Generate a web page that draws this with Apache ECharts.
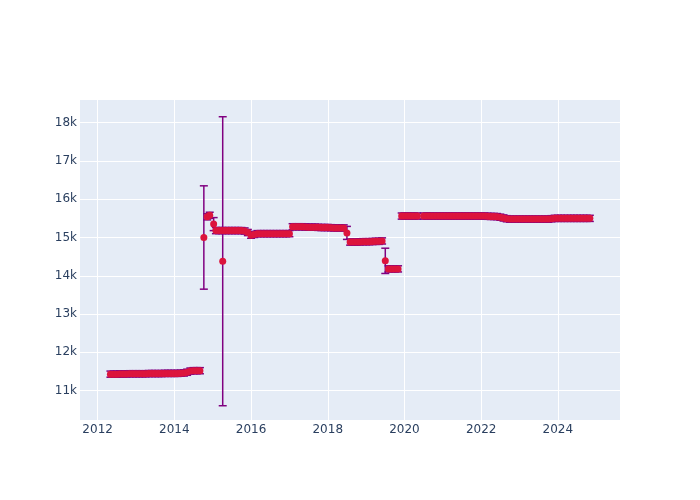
<!DOCTYPE html>
<html>
<head>
<meta charset="utf-8">
<script src="https://cdn.jsdelivr.net/npm/echarts@6/dist/echarts.min.js"></script>
<style>html,body{margin:0;padding:0;background:#fff}#c{width:700px;height:500px}</style>
</head>
<body>
<div id="c"></div>
<script>
const xTicks = [2012, 2014, 2016, 2018, 2020, 2022, 2024];
const yTicks = [11000, 12000, 13000, 14000, 15000, 16000, 17000, 18000];

const dates = [
 '2012-05','2012-06','2012-07','2012-08','2012-09','2012-10','2012-11','2012-12',
 '2013-01','2013-02','2013-03','2013-04','2013-05','2013-06','2013-07','2013-08','2013-09','2013-10','2013-11','2013-12',
 '2014-01','2014-02','2014-03','2014-04','2014-05','2014-06','2014-07','2014-08','2014-09',
 '2014-10-08','2014-11-10','2014-12-03','2015-01-10',
 '2015-02','2015-03','2015-04','2015-04-05','2015-05','2015-06','2015-07','2015-08','2015-09','2015-10','2015-11','2015-12',
 '2016-01','2016-02','2016-03','2016-04','2016-05','2016-06','2016-07','2016-08','2016-09','2016-10','2016-11','2016-12','2017-01',
 '2017-02','2017-03','2017-04','2017-05','2017-06','2017-07','2017-08','2017-09','2017-10','2017-11','2017-12',
 '2018-01','2018-02','2018-03','2018-04','2018-05','2018-06',
 '2018-07-01',
 '2018-08','2018-09','2018-10','2018-11','2018-12','2019-01','2019-02','2019-03','2019-04','2019-05','2019-06',
 '2019-07-01',
 '2019-08','2019-09','2019-10','2019-11',
 '2019-12-05','2020-01','2020-02','2020-03','2020-04','2020-05',
 '2020-07','2020-08','2020-09','2020-10','2020-11','2020-12',
 '2021-01','2021-02','2021-03','2021-04','2021-05','2021-06','2021-07','2021-08','2021-09','2021-10','2021-11','2021-12',
 '2022-01','2022-02','2022-03','2022-04','2022-05','2022-06','2022-07','2022-08','2022-09','2022-10','2022-11','2022-12',
 '2023-01','2023-02','2023-03','2023-04','2023-05','2023-06','2023-07','2023-08','2023-09','2023-10','2023-11','2023-12',
 '2024-01','2024-02','2024-03','2024-04','2024-05','2024-06','2024-07','2024-08','2024-09','2024-10','2024-11'
];

const values = [
 11430,11430,11430,11435,11435,11435,11440,11440,
 11440,11440,11440,11440,11445,11445,11445,11445,11445,11450,11450,11450,
 11450,11450,11455,11460,11480,11510,11520,11520,11520,
 15000,15540,15580,15350,
 15180,15180,15180,14380,15180,15180,15180,15180,15180,15180,15170,15130,
 15060,15080,15100,15100,15100,15100,15100,15100,15100,15100,15100,15100,15100,
 15280,15280,15280,15280,15275,15270,15270,15270,15265,15260,15260,
 15260,15255,15250,15250,15250,15250,
 15120,
 14880,14880,14880,14885,14890,14890,14890,14895,14900,14900,14910,
 14390,
 14180,14180,14180,14180,
 15560,15560,15560,15560,15560,15560,
 15560,15560,15560,15560,15560,15560,
 15560,15560,15560,15560,15560,15560,15560,15560,15560,15560,15560,15560,
 15560,15560,15555,15550,15550,15545,15530,15510,15490,15480,15480,15480,
 15480,15480,15480,15480,15480,15480,15480,15480,15480,15480,15490,15500,
 15500,15500,15500,15500,15500,15500,15500,15500,15500,15500,15500
];

const errors = [
 80,80,80,80,80,80,80,80,
 80,80,80,80,80,80,80,80,80,80,80,80,
 80,80,80,80,80,80,80,80,80,
 1350,80,80,170,
 80,80,80,3775,80,80,80,80,80,80,80,80,
 80,80,80,80,80,80,80,80,80,80,80,80,80,
 80,80,80,80,80,80,80,80,80,80,80,
 80,80,80,80,80,80,
 170,
 80,80,80,80,80,80,80,80,80,80,80,
 330,
 80,80,80,80,
 80,80,80,80,80,80,
 80,80,80,80,80,80,
 80,80,80,80,80,80,80,80,80,80,80,80,
 80,80,80,80,80,80,80,80,80,80,80,80,
 80,80,80,80,80,80,80,80,80,80,80,80,
 80,80,80,80,80,80,80,80,80,80,80
];

function toYear(s) {
  const p = s.split('-').map(Number);
  const d = p[2] || 1;
  return p[0] + (p[1] - 1) / 12 + (d - 1) / 365;
}
const pts = dates.map((d, i) => [toYear(d), values[i], errors[i]]);

const textStyle = { color: '#2a3f5f', fontSize: 12, fontFamily: 'DejaVu Sans' };
const chart = echarts.init(document.getElementById('c'), null, { renderer: 'canvas' });
chart.setOption({
  animation: false,
  backgroundColor: '#fff',
  grid: { left: 80, right: 80, top: 100, bottom: 80, show: true, backgroundColor: '#E5ECF6', borderWidth: 0 },
  xAxis: {
    type: 'value', min: 2011.54, max: 2025.62,
    axisLine: { show: false },
    axisTick: { show: false, customValues: xTicks },
    axisLabel: Object.assign({ customValues: xTicks, margin: 4, formatter: v => String(Math.round(v)) }, textStyle),
    splitLine: { show: true, lineStyle: { color: '#fff', width: 1 } }
  },
  yAxis: {
    type: 'value', min: 10232, max: 18592,
    axisLine: { show: false },
    axisTick: { show: false, customValues: yTicks },
    axisLabel: Object.assign({ customValues: yTicks, margin: 3, formatter: v => (v / 1000) + 'k' }, textStyle),
    splitLine: { show: true, lineStyle: { color: '#fff', width: 1 } }
  },
  series: [
    {
      type: 'custom',
      data: pts,
      encode: { x: 0, y: 1 },
      z: 2,
      renderItem: function (params, api) {
        const x = api.value(0), y = api.value(1), e = api.value(2);
        const t = api.coord([x, y + e]);
        const b = api.coord([x, y - e]);
        const h = 4;
        const st = { stroke: '#800080', lineWidth: 1.5, fill: null };
        return {
          type: 'group',
          children: [
            { type: 'line', shape: { x1: t[0], y1: t[1], x2: b[0], y2: b[1] }, style: st },
            { type: 'line', shape: { x1: t[0] - h, y1: t[1], x2: t[0] + h, y2: t[1] }, style: st },
            { type: 'line', shape: { x1: b[0] - h, y1: b[1], x2: b[0] + h, y2: b[1] }, style: st }
          ]
        };
      }
    },
    {
      type: 'scatter',
      data: pts.map(p => [p[0], p[1]]),
      symbol: 'circle',
      symbolSize: 7,
      z: 3,
      itemStyle: { color: '#DC143C', opacity: 1 }
    }
  ]
});
</script>
</body>
</html>
